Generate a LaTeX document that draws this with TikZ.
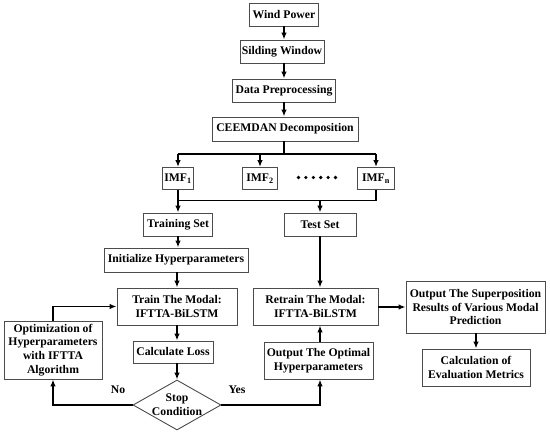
\documentclass[tikz,border=0pt]{standalone}
\usepackage{fontspec}
\setmainfont{Liberation Serif}
\usetikzlibrary{arrows.meta,shapes.geometric}
\begin{document}
\begin{tikzpicture}[x=1bp,y=-1bp,
  box/.style={draw=black!70, line width=0.9bp, fill=white, align=center, inner sep=1bp,
    font=\fontsize{11.7bp}{13.7bp}\selectfont\bfseries},
  lbl/.style={font=\fontsize{11.7bp}{13.7bp}\selectfont\bfseries, inner sep=0},
  arr/.style={line width=1.6bp, -{Latex[length=7bp,width=5.5bp]}},
  ln/.style={line width=1.6bp}]
\useasboundingbox (0,0) rectangle (550,434);
% top column
\node[box, minimum width=69bp, minimum height=23bp] (wp) at (284,14.5) {Wind Power};
\node[box, minimum width=84bp, minimum height=23bp] (sw) at (282,51.5) {Silding Window};
\node[box, minimum width=103bp, minimum height=23bp] (dp) at (284,90.5) {Data Preprocessing};
\node[box, minimum width=146bp, minimum height=24bp] (ce) at (285,129) {CEEMDAN Decomposition};
% IMFs
\node[box, minimum width=31bp, minimum height=22bp] (imf1) at (178,178.5) {IMF\textsubscript{1}};
\node[box, minimum width=35bp, minimum height=22bp] (imf2) at (260,178.5) {IMF\textsubscript{2}};
\node[box, minimum width=37bp, minimum height=22bp] (imfn) at (376,178.5) {IMF\textsubscript{n}};
\foreach \i in {0,...,5} \fill (298.5+\i*7.4,177.5) circle (1.8bp);
% sets
\node[box, minimum width=69bp, minimum height=23bp] (train) at (178,224.5) {Training Set};
\node[box, minimum width=72bp, minimum height=23bp] (test) at (320,224.5) {Test Set};
\node[box, minimum width=144bp, minimum height=24bp] (init) at (176,260) {Initialize Hyperparameters};
\node[box, minimum width=120bp, minimum height=37bp] (tm) at (177,306.5) {Train The Modal:\\IFTTA-BiLSTM};
\node[box, minimum width=80bp, minimum height=22bp] (loss) at (173,352) {Calculate Loss};
\node[box, diamond, aspect=1.76, minimum width=88bp, minimum height=50bp, inner sep=0] (stop) at (177,405) {Stop\\Condition};
\node[box, minimum width=98bp, minimum height=58bp] (opt) at (53,350) {Optimization of\\Hyperparameters\\with IFTTA\\Algorithm};
\node[box, minimum width=125bp, minimum height=37bp] (rt) at (315.5,306.5) {Retrain The Modal:\\IFTTA-BiLSTM};
\node[box, minimum width=109bp, minimum height=37bp] (oo) at (318.5,360.5) {Output The Optimal\\Hyperparameters};
\node[box, minimum width=139bp, minimum height=52bp] (sp) at (475.5,307) {Output The Superposition\\Results of Various Modal\\Prediction};
\node[box, minimum width=108bp, minimum height=37bp] (ev) at (476,367.5) {Calculation of\\Evaluation Metrics};
\node[lbl] (no) at (118,390) {No};
\node[lbl] (yes) at (237,390) {Yes};
% connectors
\coordinate (b1) at (284,154);
\coordinate (b2) at (320,200.5);
\draw[arr] (wp) -- (wp.south |- sw.north);
\draw[arr] (sw.south -| wp.south) -- (wp.south |- dp.north);
\draw[arr] (dp.south -| wp.south) -- (wp.south |- ce.north);
\draw[ln] (ce.south -| b1) -- (b1);
\draw[ln] (imf1.north |- b1) -- (imfn.north |- b1);
\draw[arr] (imf1.north |- b1) -- (imf1.north);
\draw[arr] (imf2.north |- b1) -- (imf2.north);
\draw[arr] (imfn.north |- b1) -- (imfn.north);
\draw[ln] (imf1.south) -- (imf1.south |- b2) -- (imfn.south |- b2) -- (imfn.south);
\draw[arr] (imf1.south |- b2) -- (imf1.south |- train.north);
\draw[arr] (b2) -- (test.north);
\draw[arr] (train.south) -- (train.south |- init.north);
\draw[arr] (init.south -| tm.south) -- (tm.north);
\draw[arr] (tm.south) -- (tm.south |- loss.north);
\draw[arr] (loss.south -| tm.south) -- (stop.north);
\draw[arr] (stop.west) -| (opt.south);
\draw[arr] (opt.north) |- (tm.west);
\draw[arr] (stop.east) -| (b2 |- oo.south);
\draw[arr] (b2 |- oo.north) -- (b2 |- rt.south);
\draw[arr] (test.south) -- (b2 |- rt.north);
\draw[arr] (rt.east |- sp.west) -- (sp.west);
\draw[arr] (sp.south -| ev.north) -- (ev.north);
\end{tikzpicture}
\end{document}
